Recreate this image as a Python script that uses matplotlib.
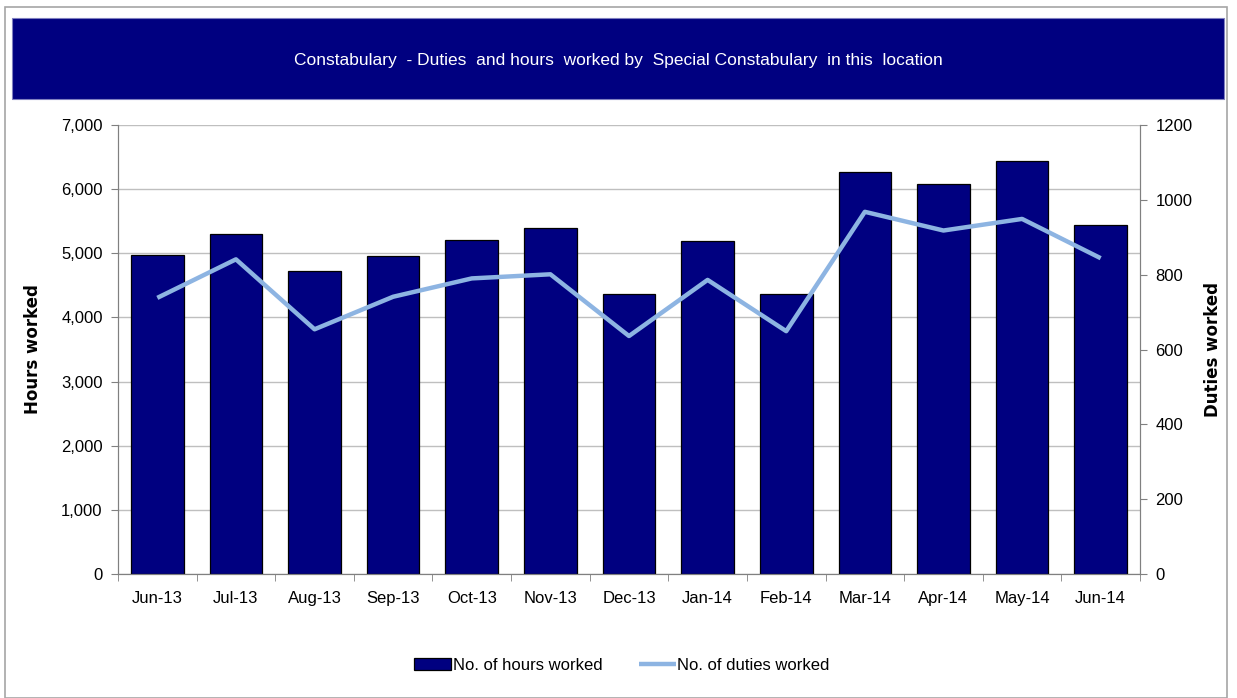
import numpy as np
import matplotlib.pyplot as plt
from matplotlib.patches import Rectangle
from matplotlib.ticker import FuncFormatter

# data
months = ['Jun-13', 'Jul-13', 'Aug-13', 'Sep-13', 'Oct-13', 'Nov-13', 'Dec-13',
          'Jan-14', 'Feb-14', 'Mar-14', 'Apr-14', 'May-14', 'Jun-14']
hours_worked = [4970, 5300, 4730, 4950, 5210, 5390, 4370,
                5190, 4370, 6260, 6085, 6435, 5445]
duties_worked = [738, 841, 654, 741, 790, 801, 636,
                 786, 649, 968, 918, 949, 844]

NAVY = '#000080'
LINE_BLUE = '#8DB4E2'
GRID = '#BFBFBF'
TEXT_FONT = ['Liberation Sans Narrow', 'Liberation Sans', 'DejaVu Sans']


def main():
    fig = plt.figure(figsize=(12.37, 6.98), dpi=100)

    # outer frame and title banner
    fig.patches.append(Rectangle((5 / 1237, 0.0), 1222 / 1237, 691 / 698,
                                 transform=fig.transFigure, fill=False,
                                 edgecolor='#A6A6A6', linewidth=1.2))
    fig.patches.append(Rectangle((12 / 1237, (698 - 99) / 698), 1212 / 1237, 81 / 698,
                                 transform=fig.transFigure, facecolor=NAVY,
                                 edgecolor='#7F7FBF', linewidth=0.8))
    fig.text(618 / 1237, (698 - 61) / 698,
             'Constabulary  - Duties  and hours  worked by  Special Constabulary  in this  location',
             color='white', fontsize=12.5, ha='center', va='center', family=TEXT_FONT)

    ax = fig.add_axes([118 / 1237, (698 - 574) / 698, 1022 / 1237, 449 / 698])
    ax2 = ax.twinx()

    x = np.arange(len(months))
    ax.bar(x, hours_worked, width=0.67, color=NAVY, edgecolor='black',
           linewidth=0.9, zorder=3, label='No. of hours worked')
    ax2.plot(x, duties_worked, color=LINE_BLUE, linewidth=3.2,
             solid_capstyle='butt', zorder=4, label='No. of duties worked')

    ax.set_xlim(-0.5, len(months) - 0.5)
    ax.set_ylim(0, 7000)
    ax.set_yticks(np.arange(0, 7001, 1000))
    ax.yaxis.set_major_formatter(FuncFormatter(lambda v, p: f'{int(v):,}'))
    ax.grid(axis='y', color=GRID, linewidth=1.0, zorder=0)
    ax.set_axisbelow(True)

    ax.set_xticks(x)
    ax.set_xticklabels(months)
    ax.set_xticks(np.arange(-0.5, len(months)), minor=True)
    ax.tick_params(axis='x', which='major', length=0, pad=12)
    ax.tick_params(axis='x', which='minor', length=5, color='#808080')

    ax2.set_ylim(0, 1200)
    ax2.set_yticks(np.arange(0, 1201, 200))

    for a in (ax, ax2):
        for side in ('left', 'right', 'bottom'):
            a.spines[side].set_color('#808080')
        a.spines['top'].set_visible(False)
        a.tick_params(axis='y', length=5, color='#808080', labelsize=12, pad=6)
        for lab in a.get_yticklabels() + a.get_xticklabels():
            lab.set_family(TEXT_FONT)
            lab.set_fontsize(12)

    ax.set_ylabel('Hours worked', fontsize=12, fontweight='bold', labelpad=14)
    ax2.set_ylabel('Duties worked', fontsize=12, fontweight='bold', labelpad=8)

    handles = [ax.containers[0], ax2.get_lines()[0]]
    labels = ['No. of hours worked', 'No. of duties worked']
    fig.legend(handles, labels, loc='center', bbox_to_anchor=(622 / 1237, (698 - 665) / 698),
               ncol=2, frameon=False, prop={'family': TEXT_FONT, 'size': 12},
               handlelength=2.2, handletextpad=0.1, columnspacing=2.2)

    fig.savefig('out.png', dpi=100)


if __name__ == "__main__":
    main()
